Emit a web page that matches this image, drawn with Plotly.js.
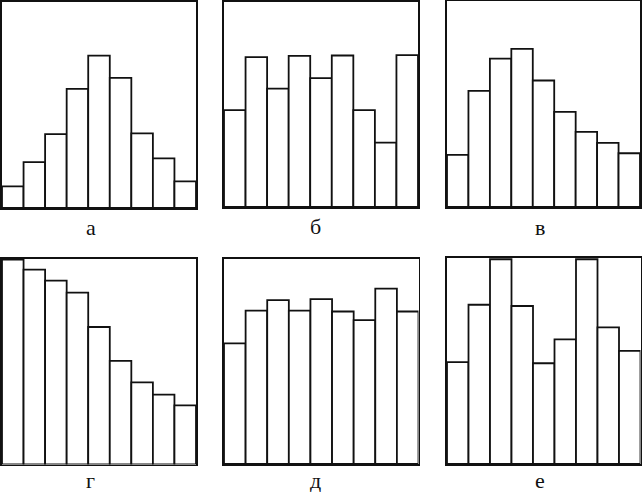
<!DOCTYPE html>
<html>
<head>
<meta charset="utf-8">
<script src="https://cdn.plot.ly/plotly-3.0.1.min.js"></script>
<style>html,body{margin:0;padding:0;background:#fff;}#chart{width:642px;height:492px;}</style>
</head>
<body>
<div id="chart"></div>
<script>
// Bin positions (9 histogram classes)
const bins = [1, 2, 3, 4, 5, 6, 7, 8, 9];
// Panel labels
const panelLabels = ['а', 'б', 'в', 'г', 'д', 'е'];
// Relative bar heights (fraction of frame height)
const valuesA = [0.105, 0.223, 0.359, 0.578, 0.740, 0.632, 0.362, 0.241, 0.129];
const valuesB = [0.473, 0.731, 0.577, 0.737, 0.629, 0.739, 0.473, 0.314, 0.741];
const valuesV = [0.253, 0.564, 0.720, 0.768, 0.614, 0.462, 0.365, 0.311, 0.261];
const valuesG = [0.997, 0.948, 0.895, 0.836, 0.669, 0.504, 0.400, 0.340, 0.288];
const valuesD = [0.587, 0.746, 0.797, 0.746, 0.802, 0.742, 0.700, 0.853, 0.742];
const valuesE = [0.495, 0.773, 0.994, 0.767, 0.489, 0.605, 0.994, 0.663, 0.549];

const allValues = [valuesA, valuesB, valuesV, valuesG, valuesD, valuesE];

const W = 642, H = 492;
// pixel frames [left, right, top, bottom]
const frames = [
  [2, 196, 2, 208], [224, 418, 2, 207], [447, 640, 1, 207],
  [2, 196, 259, 464.5], [224, 418.5, 258.5, 464], [447, 640.5, 258, 464]
];
const labelPos = [[91, 227], [315, 226.5], [540, 227], [91, 480], [315, 480], [540, 480]];

const traces = [];
const layout = {
  width: W, height: H,
  margin: {l: 0, r: 0, t: 0, b: 0},
  paper_bgcolor: '#fff', plot_bgcolor: '#fff',
  showlegend: false,
  bargap: 0,
  annotations: []
};

allValues.forEach((vals, i) => {
  const n = i === 0 ? '' : String(i + 1);
  traces.push({
    type: 'bar', x: bins, y: vals,
    xaxis: 'x' + n, yaxis: 'y' + n,
    marker: {color: '#fff', line: {color: '#111', width: 1.8}},
    hoverinfo: 'skip'
  });
  const f = frames[i];
  const axCommon = {showgrid: false, zeroline: false, showticklabels: false, ticks: '',
    showline: true, mirror: true, linecolor: '#111', linewidth: 1.8, fixedrange: true};
  layout['xaxis' + n] = Object.assign({}, axCommon, {
    domain: [f[0] / W, f[1] / W], range: [0.5, 9.5], anchor: 'y' + n
  });
  layout['yaxis' + n] = Object.assign({}, axCommon, {
    domain: [(H - f[3]) / H, (H - f[2]) / H], range: [0, 1], anchor: 'x' + n
  });
  layout.annotations.push({
    text: panelLabels[i], xref: 'paper', yref: 'paper',
    x: labelPos[i][0] / W, y: (H - labelPos[i][1]) / H,
    xanchor: 'center', yanchor: 'middle', showarrow: false,
    font: {family: 'Liberation Serif, Times New Roman, serif', size: 22, color: '#111'}
  });
});

Plotly.newPlot('chart', traces, layout, {staticPlot: true, displayModeBar: false});
</script>
</body>
</html>
